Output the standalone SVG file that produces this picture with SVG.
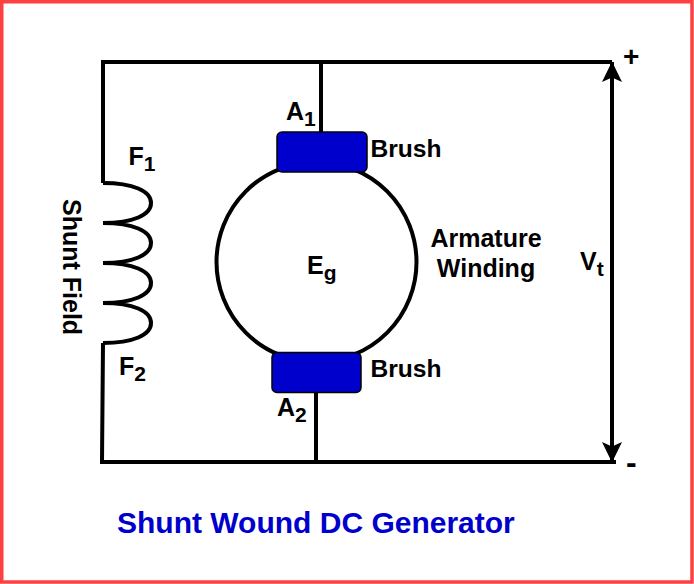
<svg xmlns="http://www.w3.org/2000/svg" width="694" height="584" viewBox="0 0 694 584">
<defs>
<marker id="ah" markerUnits="userSpaceOnUse" markerWidth="26" markerHeight="26" refX="20" refY="13" orient="auto-start-reverse"><path d="M0 3L20.500 13L0 23L4.500 13Z" fill="#000"/></marker>
</defs>
<style>
text{font-family:"Liberation Sans",Arial,sans-serif;font-weight:700;font-size:25px;fill:#000}
.w{fill:none;stroke:#000;stroke-width:4}
.b{fill:#0000cc;stroke:#000;stroke-width:1.500}
</style>
<rect x="1.750" y="1.750" width="690.250" height="580.250" fill="#fff" stroke="#ff4040" stroke-width="3.500"/>
<g id="connectors">
<path class="w" d="M103 183V62H612"/>
<path class="w" d="M321 62V132"/>
<path class="w" d="M103 343L102 462H616"/>
<path class="w" d="M316 392V462"/>
<path class="w" d="M612 62V462" marker-start="url(#ah)" marker-end="url(#ah)"/>
</g>
<g id="shunt-field">
<path class="w" d="M103 183C133 183 151 191 151 203C151 215 133 223 103 223C133 223 151 231 151 243C151 255 133 263 103 263C133 263 151 271 151 283C151 295 133 303 103 303C133 303 151 311 151 323C151 335 133 343 103 343"/>
<text transform="translate(62.500 199) rotate(90)">Shunt Field</text>
<text x="128.500" y="165">F<tspan font-size="21" dy="6">1</tspan></text>
<text x="119" y="375">F<tspan font-size="21" dy="6">2</tspan></text>
</g>
<g id="armature">
<circle class="w" cx="316.500" cy="262" r="100"/>
<text x="307" y="274">E<tspan font-size="21" dy="6">g</tspan></text>
<text x="486" y="247" text-anchor="middle">Armature</text>
<text x="486" y="277" text-anchor="middle">Winding</text>
</g>
<g id="brush-top">
<rect class="b" x="277" y="132" width="90" height="40" rx="5"/>
<text x="370.500" y="157" style="font-size:24.600px">Brush</text>
<text x="286" y="120">A<tspan font-size="21" dy="6">1</tspan></text>
</g>
<g id="brush-bottom">
<rect class="b" x="272" y="352.500" width="89" height="40" rx="5"/>
<text x="370.500" y="377" style="font-size:24.600px">Brush</text>
<text x="277" y="416">A<tspan font-size="21" dy="6">2</tspan></text>
</g>
<g id="terminals">
<text x="623" y="66" style="font-size:28px">+</text>
<text x="626" y="473" style="font-size:32px">-</text>
<text x="580" y="270">V<tspan font-size="21" dy="6">t</tspan></text>
</g>
<text x="117" y="533" style="font-size:30px;fill:#0000cc">Shunt Wound DC Generator</text>
</svg>
